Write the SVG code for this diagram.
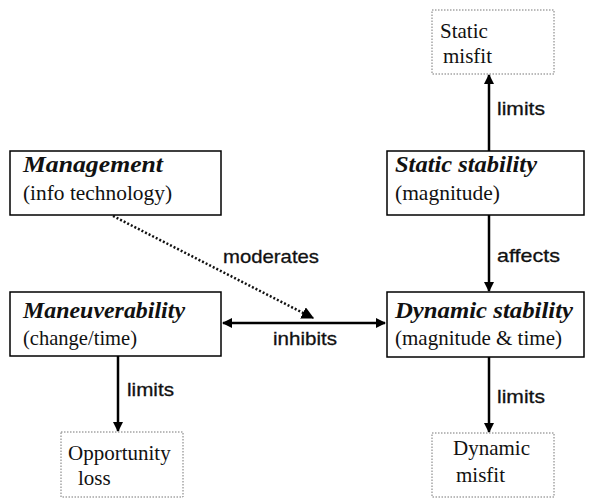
<svg xmlns="http://www.w3.org/2000/svg" width="593" height="498" viewBox="0 0 593 498">
<style>
.box{fill:#fff;stroke:#000;stroke-width:1.5}
.dbox{fill:#fff;stroke:#777;stroke-width:1;stroke-dasharray:1.5,1.5}
.t{fill:#111}
.ti{font-style:italic;font-weight:bold;font-size:24px}
.ts{font-size:21px}
.lbl{font-family:"Liberation Sans",Arial,sans-serif;font-size:19px;fill:#111;stroke:#111;stroke-width:0.3}
.ln{stroke:#000;stroke-width:2.5;fill:none}
</style>
<defs>
<marker id="ah" viewBox="0 0 10 10" refX="9" refY="5" markerWidth="4" markerHeight="4" orient="auto-start-reverse" markerUnits="strokeWidth">
<path d="M0,0 L10,5 L0,10 z" fill="#000"/>
</marker>
<marker id="ahd" viewBox="0 0 10 10" refX="9" refY="5" markerWidth="5" markerHeight="5" orient="auto" markerUnits="strokeWidth">
<path d="M0,0 L10,5 L0,10 z" fill="#000"/>
</marker>
</defs>
<g id="connectors">
<line class="ln" x1="489" y1="151" x2="489" y2="75" marker-end="url(#ah)"/>
<line class="ln" x1="489" y1="215" x2="489" y2="291" marker-end="url(#ah)"/>
<line class="ln" x1="489" y1="357" x2="489" y2="432" marker-end="url(#ah)"/>
<line class="ln" x1="118" y1="356" x2="118" y2="431" marker-end="url(#ah)"/>
<line class="ln" x1="223" y1="323" x2="385" y2="323" marker-start="url(#ah)" marker-end="url(#ah)"/>
<line x1="113" y1="216" x2="313" y2="318" stroke="#111" stroke-width="2.5" stroke-dasharray="2,2" marker-end="url(#ahd)"/>
<text class="lbl" x="497" y="115" textLength="48" lengthAdjust="spacingAndGlyphs">limits</text>
<text class="lbl" x="497" y="262" textLength="63" lengthAdjust="spacingAndGlyphs">affects</text>
<text class="lbl" x="497" y="403" textLength="48" lengthAdjust="spacingAndGlyphs">limits</text>
<text class="lbl" x="127" y="396" textLength="47" lengthAdjust="spacingAndGlyphs">limits</text>
<text class="lbl" x="273" y="345" textLength="64" lengthAdjust="spacingAndGlyphs">inhibits</text>
<text class="lbl" x="223" y="263" textLength="96" lengthAdjust="spacingAndGlyphs">moderates</text>
</g>
<g font-family="'Liberation Serif', 'DejaVu Serif', serif">
<g id="management">
<rect class="box" x="10" y="151" width="211" height="64"/>
<text class="t ti" x="23" y="172" textLength="140" lengthAdjust="spacingAndGlyphs">Management</text>
<text class="t ts" x="23" y="200" textLength="149" lengthAdjust="spacingAndGlyphs">(info technology)</text>
</g>
<g id="maneuverability">
<rect class="box" x="10" y="292" width="211" height="64"/>
<text class="t ti" x="23" y="318" textLength="162" lengthAdjust="spacingAndGlyphs">Maneuverability</text>
<text class="t ts" x="23" y="345" textLength="114" lengthAdjust="spacingAndGlyphs">(change/time)</text>
</g>
<g id="static-stability">
<rect class="box" x="387" y="151" width="197" height="64"/>
<text class="t ti" x="395" y="172" textLength="142" lengthAdjust="spacingAndGlyphs">Static stability</text>
<text class="t ts" x="395" y="200" textLength="105" lengthAdjust="spacingAndGlyphs">(magnitude)</text>
</g>
<g id="dynamic-stability">
<rect class="box" x="387" y="292" width="197" height="65"/>
<text class="t ti" x="395" y="318" textLength="178" lengthAdjust="spacingAndGlyphs">Dynamic stability</text>
<text class="t ts" x="395" y="345" textLength="167" lengthAdjust="spacingAndGlyphs">(magnitude &amp; time)</text>
</g>
<g id="static-misfit">
<rect class="dbox" x="432" y="10" width="122" height="64"/>
<text class="t ts" x="440" y="38">Static</text>
<text class="t ts" x="443" y="63">misfit</text>
</g>
<g id="dynamic-misfit">
<rect class="dbox" x="432" y="433" width="122" height="64"/>
<text class="t ts" x="453" y="455">Dynamic</text>
<text class="t ts" x="456" y="482">misfit</text>
</g>
<g id="opportunity-loss">
<rect class="dbox" x="61" y="432" width="122" height="65"/>
<text class="t ts" x="68" y="460">Opportunity</text>
<text class="t ts" x="78" y="485">loss</text>
</g>
</g>
</svg>
